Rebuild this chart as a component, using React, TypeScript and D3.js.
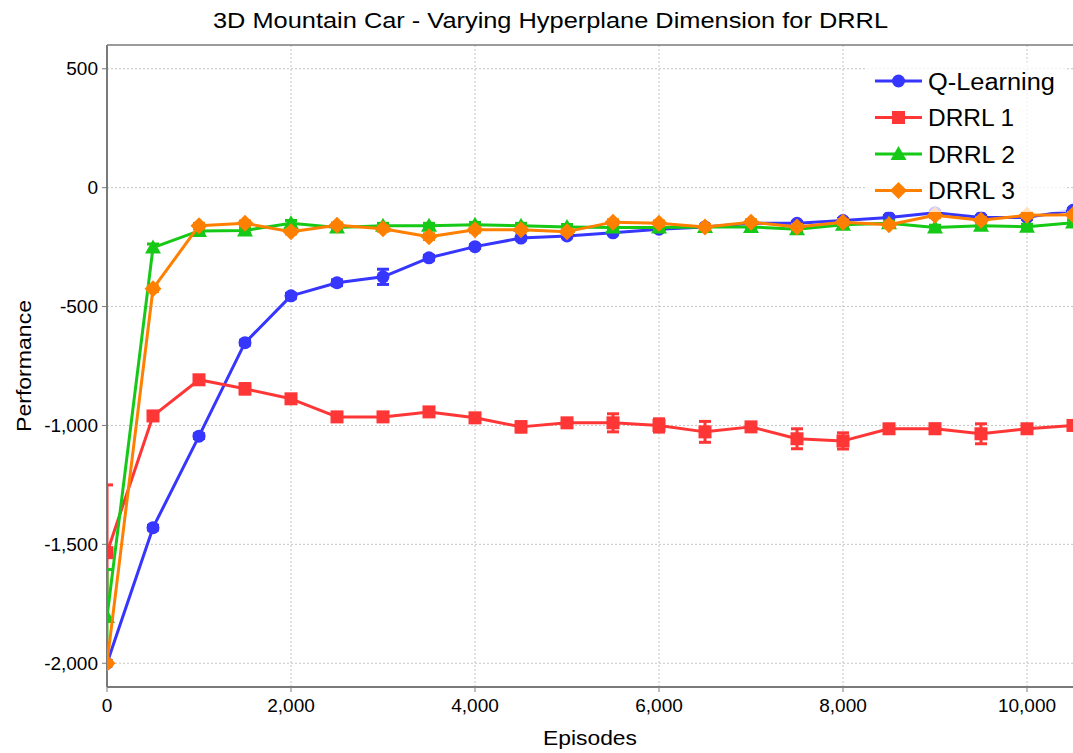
import React from "react";
import * as d3 from "d3";

const episodes = [0, 500, 1000, 1500, 2000, 2500, 3000, 3500, 4000, 4500, 5000, 5500, 6000, 6500, 7000, 7500, 8000, 8500, 9000, 9500, 10000, 10500];

const qLearning = [-2000, -1430, -1045, -652, -455, -400, -375, -295, -248, -212, -203, -190, -175, -165, -150, -150, -138, -125, -105, -125, -125, -95];
const qLearningErr = [10, 10, 10, 10, 10, 12, 32, 10, 8, 8, 8, 8, 8, 8, 8, 8, 8, 8, 8, 8, 8, 8];

const drrl1 = [-1535, -960, -808, -846, -888, -964, -964, -943, -968, -1006, -989, -989, -1000, -1027, -1006, -1056, -1065, -1014, -1014, -1035, -1014, -1000];
const drrl1Err = [285, 15, 12, 22, 10, 12, 15, 18, 12, 22, 18, 38, 28, 44, 12, 42, 34, 18, 20, 42, 12, 10];

const drrl2 = [-1806, -252, -182, -180, -150, -168, -160, -160, -156, -160, -165, -168, -168, -165, -165, -175, -156, -150, -168, -160, -164, -147];
const drrl2Err = [200, 15, 10, 10, 12, 10, 10, 10, 10, 10, 10, 10, 10, 10, 10, 10, 10, 10, 10, 10, 10, 10];

const drrl3 = [-2000, -425, -160, -150, -185, -158, -173, -206, -177, -177, -185, -145, -150, -165, -145, -165, -145, -156, -116, -137, -116, -114];
const drrl3Err = [10, 12, 10, 10, 10, 10, 10, 12, 10, 10, 10, 10, 10, 10, 10, 10, 10, 10, 10, 10, 10, 10];

const seriesNames = ["Q-Learning", "DRRL 1", "DRRL 2", "DRRL 3"];
const yTicks = [500, 0, -500, -1000, -1500, -2000];
const xTicks = [0, 2000, 4000, 6000, 8000, 10000];

const W = 1073;
const H = 753;
const M = { left: 107, top: 45, right: 1073, bottom: 687 };
const FONT = "'Liberation Sans', Arial, sans-serif";

type Shape = "circle" | "square" | "triangle" | "diamond";

const series = [
  { name: seriesNames[0], values: qLearning, err: qLearningErr, color: "#3636ff", shape: "circle" as Shape, tl: 127 },
  { name: seriesNames[1], values: drrl1, err: drrl1Err, color: "#ff3636", shape: "square" as Shape, tl: 86 },
  { name: seriesNames[2], values: drrl2, err: drrl2Err, color: "#16c916", shape: "triangle" as Shape, tl: 87 },
  { name: seriesNames[3], values: drrl3, err: drrl3Err, color: "#ff8000", shape: "diamond" as Shape, tl: 87 },
];

function Marker({ shape, x, y, color }: { shape: Shape; x: number; y: number; color: string }) {
  if (shape === "circle") return <circle cx={x} cy={y} r={6.5} fill={color} />;
  if (shape === "square") return <rect x={x - 6.5} y={y - 6.5} width={13} height={13} fill={color} />;
  if (shape === "triangle")
    return <path d={`M${x},${y - 8} L${x + 8},${y + 6} L${x - 8},${y + 6} Z`} fill={color} />;
  return <path d={`M${x},${y - 8.5} L${x + 8.5},${y} L${x},${y + 8.5} L${x - 8.5},${y} Z`} fill={color} />;
}

export default function App() {
  const x = d3.scaleLinear().domain([0, 10500]).range([M.left, M.right]);
  const y = d3.scaleLinear().domain([-2100, 600]).range([M.bottom, M.top]);
  const fmt0 = d3.format(",");
  const fmt = (v: number) => fmt0(v).replace("\u2212", "-");
  const line = d3
    .line<number>()
    .x((_, i) => x(episodes[i]))
    .y((d) => y(d));

  const legendX = 875;
  const legendY0 = 81;
  const legendDy = 36.5;

  return (
    <svg width={W} height={H} style={{ position: "absolute", left: 0, top: 0, background: "#fff" }}>
      <defs>
        <clipPath id="plotClip">
          <rect x={M.left} y={M.top} width={M.right - M.left} height={M.bottom - M.top} />
        </clipPath>
      </defs>
      <rect x={0} y={0} width={W} height={H} fill="#fff" />
      <text x={550.5} y={28} textAnchor="middle" fontFamily={FONT} fontSize={22} fill="#000" textLength={675} lengthAdjust="spacingAndGlyphs">
        3D Mountain Car - Varying Hyperplane Dimension for DRRL
      </text>
      {/* grid */}
      {yTicks.map((t) => (
        <line key={"gy" + t} x1={M.left} x2={M.right} y1={y(t)} y2={y(t)} stroke="#c4c4c4" strokeWidth={1} strokeDasharray="2,2" />
      ))}
      {xTicks.map((t) => (
        <line key={"gx" + t} x1={x(t)} x2={x(t)} y1={M.top} y2={M.bottom} stroke="#c4c4c4" strokeWidth={1} strokeDasharray="2,2" />
      ))}
      {/* frame */}
      <line x1={M.left} x2={M.right} y1={M.top} y2={M.top} stroke="#7a7a7a" strokeWidth={1.5} />
      <line x1={M.left} x2={M.left} y1={M.top} y2={M.bottom} stroke="#7a7a7a" strokeWidth={2} />
      <line x1={M.left} x2={M.right} y1={M.bottom} y2={M.bottom} stroke="#7a7a7a" strokeWidth={2} />
      {/* ticks */}
      {yTicks.map((t) => (
        <g key={"ty" + t}>
          <line x1={M.left - 5} x2={M.left} y1={y(t)} y2={y(t)} stroke="#7a7a7a" strokeWidth={1} />
          <text x={M.left - 9} y={y(t) + 6.5} textAnchor="end" fontFamily={FONT} fontSize={19} fill="#000">
            {fmt(t)}
          </text>
        </g>
      ))}
      {xTicks.map((t) => (
        <g key={"tx" + t}>
          <line x1={x(t)} x2={x(t)} y1={M.bottom} y2={M.bottom + 5} stroke="#7a7a7a" strokeWidth={1} />
          <text x={x(t)} y={M.bottom + 25} textAnchor="middle" fontFamily={FONT} fontSize={19} fill="#000">
            {fmt(t)}
          </text>
        </g>
      ))}
      <text x={590} y={745} textAnchor="middle" fontFamily={FONT} fontSize={21} fill="#000" textLength={94} lengthAdjust="spacingAndGlyphs">
        Episodes
      </text>
      <text transform={`translate(31,366) rotate(-90)`} textAnchor="middle" fontFamily={FONT} fontSize={21} fill="#000" textLength={132} lengthAdjust="spacingAndGlyphs">
        Performance
      </text>
      {/* data */}
      <g clipPath="url(#plotClip)">
        {series.map((s) => (
          <g key={s.name}>
            <path d={line(s.values) || ""} fill="none" stroke={s.color} strokeWidth={3} strokeLinejoin="round" />
            {s.values.map((v, i) => {
              const cx = x(episodes[i]);
              const y1 = y(v + s.err[i]);
              const y2 = y(v - s.err[i]);
              return (
                <g key={i}>
                  <line x1={cx} x2={cx} y1={y1} y2={y2} stroke={s.color} strokeWidth={3} />
                  <line x1={cx - 6} x2={cx + 6} y1={y1} y2={y1} stroke={s.color} strokeWidth={3} />
                  <line x1={cx - 6} x2={cx + 6} y1={y2} y2={y2} stroke={s.color} strokeWidth={3} />
                  <Marker shape={s.shape} x={cx} y={y(v)} color={s.color} />
                </g>
              );
            })}
          </g>
        ))}
      </g>
      {/* legend */}
      <rect x={866} y={62} width={200} height={150} fill="#fff" fillOpacity={0.75} />
      {series.map((s, i) => {
        const ly = legendY0 + i * legendDy;
        return (
          <g key={"lg" + s.name}>
            <line x1={legendX} x2={legendX + 47} y1={ly} y2={ly} stroke={s.color} strokeWidth={3} />
            <Marker shape={s.shape} x={legendX + 23.5} y={ly} color={s.color} />
            <text x={legendX + 53} y={ly + 8.5} fontFamily={FONT} fontSize={23} fill="#000" textLength={s.tl} lengthAdjust="spacingAndGlyphs">
              {s.name}
            </text>
          </g>
        );
      })}
    </svg>
  );
}
